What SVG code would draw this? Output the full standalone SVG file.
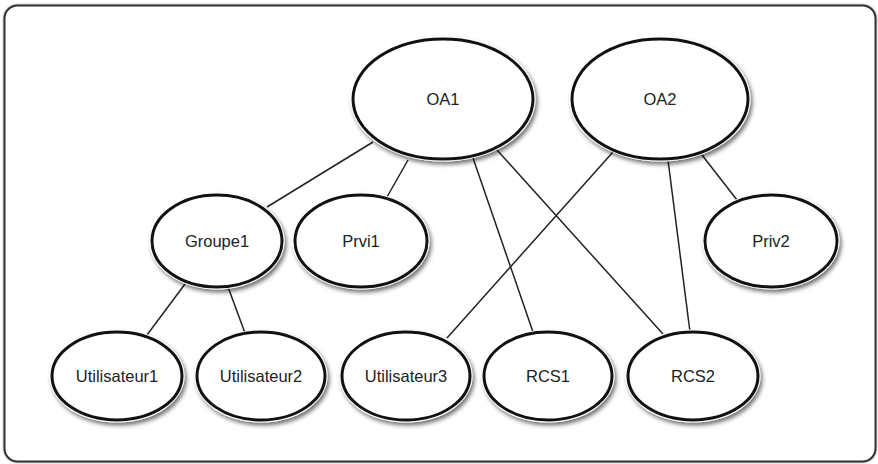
<svg xmlns="http://www.w3.org/2000/svg" width="878" height="464" viewBox="0 0 878 464">
  <defs>
    <filter id="sh" x="-20%" y="-20%" width="140%" height="150%">
      <feDropShadow dx="2" dy="3" stdDeviation="2" flood-color="#000" flood-opacity="0.55"/>
    </filter>
    <filter id="bsh" x="-5%" y="-5%" width="110%" height="110%">
      <feDropShadow dx="0" dy="0" stdDeviation="1" flood-color="#000" flood-opacity="0.4"/>
    </filter>
  </defs>
  <style>
    .halo { fill: #fff; stroke: none; filter: url(#sh); }
    .node { fill: #fff; stroke: #111; stroke-width: 3; }
    .lbl { font-family: "Liberation Sans", Arial, sans-serif; font-size: 16.5px; fill: #222; text-anchor: middle; dominant-baseline: central; }
    .edge { stroke: #222; stroke-width: 1.5; fill: none; }
  </style>
  <rect x="4.5" y="5.5" width="871" height="456" rx="13" ry="13" fill="#fff" stroke="#333" stroke-width="2" filter="url(#bsh)"/>

  <g id="connectors">
    <line class="edge" x1="373" y1="142" x2="267" y2="207"/>
    <line class="edge" x1="408" y1="160" x2="387" y2="197"/>
    <line class="edge" x1="473" y1="158" x2="533" y2="332"/>
    <line class="edge" x1="497" y1="150" x2="663" y2="334"/>
    <line class="edge" x1="613" y1="152" x2="447" y2="338"/>
    <line class="edge" x1="668" y1="160" x2="690" y2="332"/>
    <line class="edge" x1="702" y1="155" x2="737" y2="200"/>
    <line class="edge" x1="185" y1="284" x2="147" y2="335"/>
    <line class="edge" x1="228" y1="287" x2="245" y2="333"/>
  </g>

  <g id="OA1">
    <ellipse class="halo" cx="443" cy="99" rx="92.5" ry="62.5"/>
    <ellipse class="node" cx="443" cy="99" rx="90" ry="60"/>
    <text class="lbl" x="443" y="99">OA1</text>
  </g>
  <g id="OA2">
    <ellipse class="halo" cx="660" cy="99" rx="90.5" ry="62.5"/>
    <ellipse class="node" cx="660" cy="99" rx="88" ry="60"/>
    <text class="lbl" x="660" y="99">OA2</text>
  </g>
  <g id="Groupe1">
    <ellipse class="halo" cx="217" cy="241" rx="67.5" ry="48.5"/>
    <ellipse class="node" cx="217" cy="241" rx="65" ry="46"/>
    <text class="lbl" x="217" y="241">Groupe1</text>
  </g>
  <g id="Prvi1">
    <ellipse class="halo" cx="361" cy="241" rx="68.5" ry="48.5"/>
    <ellipse class="node" cx="361" cy="241" rx="66" ry="46"/>
    <text class="lbl" x="361" y="241">Prvi1</text>
  </g>
  <g id="Priv2">
    <ellipse class="halo" cx="771" cy="241" rx="68.5" ry="48.5"/>
    <ellipse class="node" cx="771" cy="241" rx="66" ry="46"/>
    <text class="lbl" x="771" y="241">Priv2</text>
  </g>
  <g id="Utilisateur1">
    <ellipse class="halo" cx="117" cy="376" rx="67.5" ry="46.5"/>
    <ellipse class="node" cx="117" cy="376" rx="65" ry="44"/>
    <text class="lbl" x="117" y="376">Utilisateur1</text>
  </g>
  <g id="Utilisateur2">
    <ellipse class="halo" cx="261" cy="376" rx="66.5" ry="46.5"/>
    <ellipse class="node" cx="261" cy="376" rx="64" ry="44"/>
    <text class="lbl" x="261" y="376">Utilisateur2</text>
  </g>
  <g id="Utilisateur3">
    <ellipse class="halo" cx="406" cy="376" rx="66.5" ry="46.5"/>
    <ellipse class="node" cx="406" cy="376" rx="64" ry="44"/>
    <text class="lbl" x="406" y="376">Utilisateur3</text>
  </g>
  <g id="RCS1">
    <ellipse class="halo" cx="548" cy="376" rx="66.5" ry="46.5"/>
    <ellipse class="node" cx="548" cy="376" rx="64" ry="44"/>
    <text class="lbl" x="548" y="376">RCS1</text>
  </g>
  <g id="RCS2">
    <ellipse class="halo" cx="693" cy="376" rx="67.5" ry="46.5"/>
    <ellipse class="node" cx="693" cy="376" rx="65" ry="44"/>
    <text class="lbl" x="693" y="376">RCS2</text>
  </g>
</svg>
